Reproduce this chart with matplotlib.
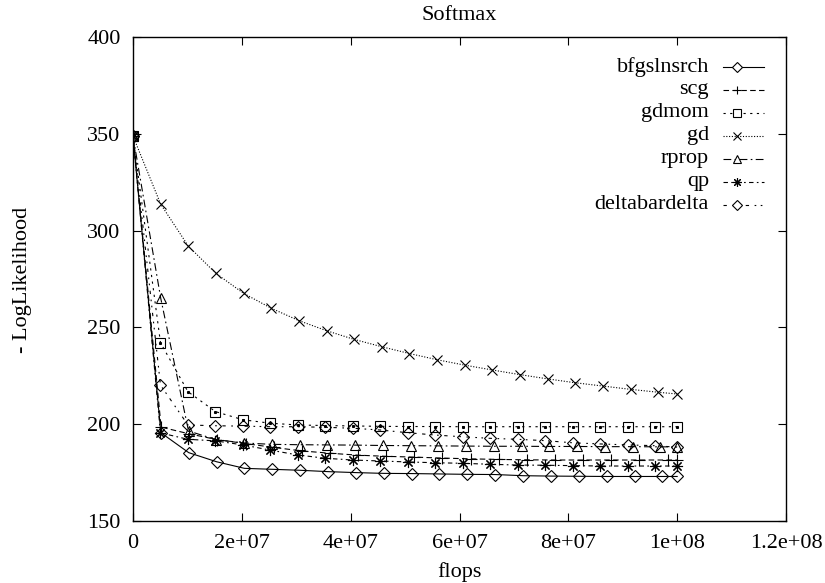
import numpy as np
import matplotlib
matplotlib.use("Agg")
import matplotlib.pyplot as plt

plt.rcParams['font.family'] = ['Liberation Serif', 'DejaVu Serif']
plt.rcParams['font.size'] = 16

# -LogLikelihood per iteration (last point is at 1e8 flops)
bfgslnsrch = [348.8, 195.6, 185.3, 180.6, 177.2, 176.7, 176.2, 175.5, 175.0, 174.6, 174.5,
              174.3, 174.1, 174.0, 173.4, 173.2, 173.1, 173.0, 173.0, 173.0, 173.0]
scg = [348.8, 198.5, 195.0, 192.0, 190.0, 188.0, 186.2, 185.0, 184.0, 183.4, 183.0,
       182.5, 182.1, 181.8, 181.6, 181.5, 181.5, 181.5, 181.5, 181.5, 181.5]
gdmom = [348.8, 242.1, 216.8, 206.5, 202.3, 200.5, 199.6, 199.3, 199.1, 198.9, 198.8,
         198.8, 198.7, 198.7, 198.7, 198.7, 198.7, 198.7, 198.7, 198.7, 198.7]
gd = [348.8, 313.7, 292.0, 277.9, 267.6, 259.9, 253.5, 248.3, 243.8, 240.0, 236.5,
      233.3, 230.5, 228.0, 225.6, 223.4, 221.4, 219.7, 218.0, 216.5, 215.6]
rprop = [348.8, 265.0, 196.5, 192.0, 190.3, 189.6, 189.4, 189.3, 189.2, 189.0, 188.9,
         188.8, 188.7, 188.6, 188.6, 188.5, 188.5, 188.4, 188.4, 188.3, 188.3]
qp = [348.8, 195.5, 192.2, 191.4, 189.3, 186.6, 184.1, 182.4, 181.5, 181.0, 180.5,
      180.1, 179.8, 179.3, 178.9, 178.8, 178.6, 178.4, 178.4, 178.4, 178.4]
deltabardelta = [348.8, 220.2, 199.6, 199.2, 199.0, 198.7, 198.7, 198.4, 197.9, 197.0, 195.6,
                 194.4, 193.5, 192.7, 192.2, 191.5, 190.4, 189.8, 189.3, 188.9, 188.1]

# flops per iteration (x 1e6) for each method, runs stop at 1e8 flops
flops_per_iter = [5.12, 5.17, 5.05, 5.08, 5.10, 5.05, 5.05]
max_flops = 1e8

names = ["bfgslnsrch", "scg", "gdmom", "gd", "rprop", "qp", "deltabardelta"]
series = [bfgslnsrch, scg, gdmom, gd, rprop, qp, deltabardelta]
markers = ["D", "+", "s", "x", "^", (8, 2, 0), "D"]
sizes = [6, 8, 7, 7, 7, 8, 6]
styles = ["-", (0, (5, 3)), (0, (2, 4)), (0, (1, 1.5)), (0, (7, 3, 1.5, 3)),
          (0, (4, 3, 1.5, 3)), (0, (3, 5, 1.5, 4, 1.5, 5))]

fig = plt.figure(figsize=(8.25, 5.83), dpi=100)
ax = fig.add_axes([133 / 825, 1 - 521 / 583, 653 / 825, 484 / 583])

for name, y, step, m, ms, ls in zip(names, series, flops_per_iter, markers, sizes, styles):
    k = np.arange(len(y))
    x = np.minimum(k * step * 1e6, max_flops)
    ax.plot(x, y, color="black", lw=0.8, ls=ls, marker=m, ms=ms, mfc="none",
            mec="black", mew=0.8)
    if name == "gdmom":
        ax.plot(x, y, ls="none", marker="s", ms=1.2, color="black")

ax.set_xlim(0, 1.2e8)
ax.set_ylim(150, 400)
ax.set_xticks(np.arange(0, 1.21e8, 2e7))
ax.set_xticklabels(["0", "2e+07", "4e+07", "6e+07", "8e+07", "1e+08", "1.2e+08"])
ax.set_yticks(np.arange(150, 401, 50))
ax.tick_params(direction="in", length=6, width=0.8, top=True, right=True)
ax.tick_params(axis="x", pad=9)
ax.tick_params(axis="y", pad=9)
for sp in ax.spines.values():
    sp.set_linewidth(1.0)

fig.text(459 / 825, 1 - 15 / 583, "Softmax", ha="center", va="center")
fig.text(459 / 825, 1 - 572 / 583, "flops", ha="center", va="center")
fig.text(23 / 825, 1 - 280 / 583, "- LogLikelihood", ha="center", va="center", rotation=90)

# gnuplot style key: right aligned text, sample line on the right
for i, (name, m, ms, ls) in enumerate(zip(names, markers, sizes, styles)):
    yk = 0.938 - i * 0.0475
    ax.text(0.882, yk, name, transform=ax.transAxes, ha="right", va="center")
    ax.plot([0.903, 0.966], [yk, yk], transform=ax.transAxes, color="black", lw=0.8, ls=ls)
    ax.plot([0.925], [yk], transform=ax.transAxes, color="black", marker=m, ms=ms * 0.8,
            mfc="white", mec="black", mew=0.8)

fig.savefig("out.png", dpi=100)
